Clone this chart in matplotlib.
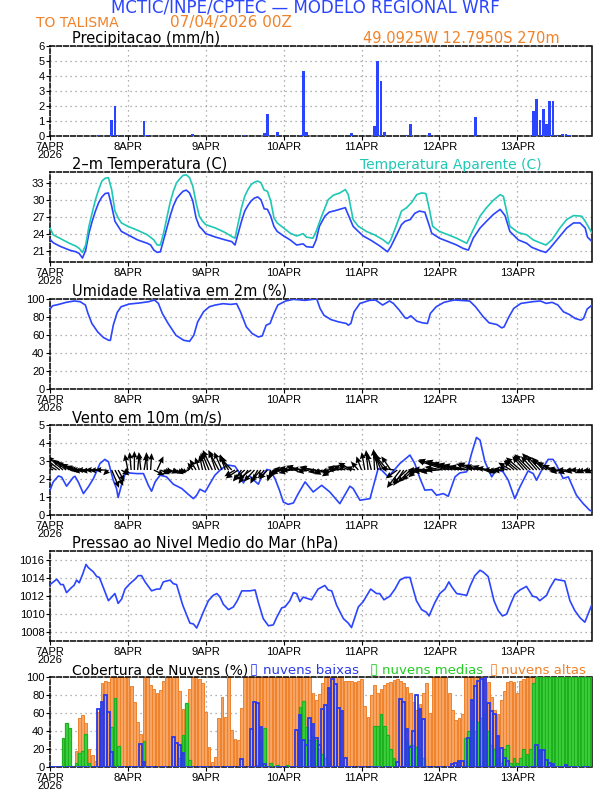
import matplotlib
matplotlib.use("Agg")
import matplotlib.pyplot as plt
import numpy as np

plt.rcParams['font.family'] = ['DejaVu Sans']

# hours since 07APR2026 00Z
days = [0, 24, 48, 72, 96, 120, 144]
day_labels = ['7APR\n2026', '8APR', '9APR', '10APR', '11APR', '12APR', '13APR']

# precipitation (mm/h)
precip_hours = [15, 19, 20, 21, 29, 30, 44, 60, 66, 67, 70, 77, 78, 79, 84, 86, 88, 93,
                100, 101, 102, 103, 110, 111, 117, 131, 134, 136, 149, 150, 151, 152,
                153, 154, 155, 156, 158, 159, 160, 162]
precip_vals = [0.05, 1.1, 2.0, 0.1, 1.0, 0.05, 0.15, 0.05, 0.2, 1.5, 0.3, 0.05, 4.35, 0.25,
               0.03, 0.03, 0.03, 0.2, 0.7, 5.0, 3.7, 0.25, 0.1, 0.8, 0.2, 1.3, 0.03, 0.03,
               1.65, 2.5, 1.05, 1.8, 0.8, 2.35, 2.35, 0.1, 0.15, 0.15, 0.1, 0.03]

# 2 m temperature (C)
t_temp = [0, 1, 3, 6, 8, 9, 10, 11, 12, 13, 14, 15, 16, 17, 18, 19, 20, 21, 22, 24, 27, 30,
          31, 32, 33, 34, 35, 36, 37, 38, 39, 40, 41, 42, 43, 44, 45, 46, 47, 48, 51, 54, 56,
          57, 58, 59, 60, 61, 62, 63, 64, 65, 66, 67, 68, 69, 70, 72, 74, 76, 78, 79, 81,
          82, 83, 84.7, 86, 88, 91, 91.4, 93.4, 95, 96.5, 99, 101.7, 104, 105, 106.8, 108.3,
          109.4, 111, 112.4, 113.8, 115.5, 116.6, 117.6, 120, 122.7, 125.3, 127.3, 128.9,
          130.4, 132.5, 134.5, 136.6, 138.7, 140.2, 141.7, 144.3, 146.9, 148.4, 151, 152.8,
          154, 156.6, 159.2, 161.3, 163.3, 164.9, 165.6, 167]
temp = [23.1, 22.5, 21.9, 21.2, 20.9, 20.6, 19.8, 21.2, 24.2, 26.3, 28.1, 29.6, 30.6, 31.2,
        31.3, 29.0, 26.3, 25.4, 24.5, 23.9, 23.0, 22.4, 22.1, 21.2, 20.8, 20.9, 23.0, 25.1,
        27.2, 29.0, 30.3, 31.0, 31.6, 31.8, 31.3, 29.9, 26.9, 25.4, 24.8, 24.1, 23.5, 23.0,
        22.7, 22.1, 24.2, 26.3, 28.1, 29.1, 29.9, 30.4, 30.6, 30.1, 28.5, 28.4, 27.2, 25.4,
        24.5, 23.7, 23.0, 22.1, 22.3, 21.8, 21.7, 23.0, 25.4, 27.2, 27.9, 28.2, 28.7, 28.1,
        25.4, 24.5, 23.7, 22.9, 21.9, 20.9, 21.8, 23.9, 25.7, 26.3, 26.6, 27.7, 28.1, 27.9,
        26.0, 24.2, 23.3, 22.7, 22.1, 21.5, 21.2, 23.3, 25.1, 26.3, 27.5, 28.4, 27.3, 24.5,
        23.0, 22.4, 21.7, 21.1, 20.8, 21.5, 23.3, 25.1, 26.0, 26.0, 25.1, 23.5, 22.7]

# apparent temperature (C)
t_tapar = [0, 1, 3, 6, 8, 9, 10, 11, 12, 13, 14, 15, 16, 17, 18, 19, 20, 21, 22, 24, 27, 30,
           32, 33, 34, 35, 36, 37, 38, 39, 40, 41, 42, 43, 44, 45, 46, 47, 48, 51, 54, 56, 57,
           58, 59, 60, 61, 62, 63, 64, 65, 66, 67, 68, 69, 70, 72, 74, 76, 78, 79, 81, 82,
           83.7, 85.7, 87.3, 89.3, 91, 91.9, 93.4, 95, 97.5, 100, 102.7, 104.2, 105, 106.8,
           108.3, 109.9, 111.4, 113, 114.5, 115.8, 116.9, 117.9, 120, 122.7, 125.3, 128.4,
           130.4, 132.5, 134.5, 136.6, 138.7, 139.7, 141.7, 144.3, 146.9, 148.9, 151, 152.8,
           154.6, 157.1, 159.2, 161.3, 163.8, 164.9, 167]
tapar = [25.1, 23.9, 23.3, 22.4, 21.9, 21.5, 20.8, 22.1, 25.4, 27.8, 30.1, 31.9, 33.4, 33.9,
         34.0, 31.9, 28.1, 26.9, 26.0, 25.4, 24.7, 23.9, 23.0, 22.1, 22.1, 24.2, 26.9, 29.6,
         31.6, 33.1, 33.8, 34.4, 34.5, 34.0, 32.5, 29.6, 27.2, 26.3, 25.7, 25.1, 24.3, 23.6,
         23.3, 26.0, 28.7, 30.7, 31.9, 32.8, 33.2, 33.4, 33.1, 31.8, 31.6, 29.9, 26.9, 26.0,
         25.1, 24.2, 23.7, 24.1, 23.5, 23.3, 24.5, 27.2, 30.1, 30.9, 31.3, 31.9, 31.0, 26.6,
         25.4, 24.5, 23.9, 23.0, 22.3, 23.0, 25.7, 28.1, 28.7, 29.6, 31.0, 31.3, 31.2, 28.4,
         25.4, 24.5, 23.9, 23.3, 22.4, 24.8, 27.2, 28.7, 30.0, 31.0, 30.7, 25.4, 24.3, 23.9,
         23.0, 22.5, 22.1, 23.0, 25.1, 26.6, 27.3, 27.2, 26.3, 24.2]

# relative humidity at 2 m (%)
t_rh = [0, 0.8, 2.7, 5, 7.5, 9.3, 10.9, 11.7, 12.9, 14.7, 16.5, 18.1, 18.6, 19.5, 20.7, 21.9,
        24.4, 27.4, 30.4, 32.2, 33.4, 34.6, 36.4, 38.8, 41.2, 43, 44.3, 45.5, 47.3, 49.1,
        50.9, 53.3, 55.7, 57.5, 58.7, 60.5, 62.3, 64.2, 65.4, 66.6, 67.8, 69, 70.2, 72.6, 75,
        78.6, 81, 82.2, 83.2, 84.4, 86.5, 88.9, 91.3, 91.9, 92.7, 93.7, 95.5, 98.5, 100.3,
        102.5, 104.6, 105.8, 107.6, 109.4, 110, 111.2, 113, 114.8, 116.3, 117.2, 119, 121.4,
        124.5, 129.3, 131.1, 133.5, 135.3, 137.7, 139.2, 139.9, 141.4, 142.9, 145.1, 148.7,
        151.1, 152.9, 154.7, 156.5, 158.2, 160, 161.8, 163.6, 164.4, 165.5, 167]
rh = [88.8, 92.5, 94.0, 96.3, 97.8, 97.0, 93.3, 84.0, 72.8, 63.4, 57.1, 54.1, 54.1, 70.9, 85.0,
      91.4, 94.4, 95.5, 97.0, 98.9, 95.1, 84.0, 72.8, 59.7, 54.1, 53.0, 59.7, 74.6, 85.8,
      91.4, 93.3, 94.8, 94.0, 94.8, 85.8, 69.0, 61.6, 57.8, 59.0, 70.9, 72.8, 84.0, 93.3,
      97.8, 99.6, 98.5, 99.6, 100.0, 89.6, 82.0, 77.2, 74.6, 72.8, 70.9, 72.8, 85.8, 95.1,
      98.5, 98.9, 93.3, 97.8, 95.1, 87.7, 79.1, 78.4, 81.3, 75.4, 73.5, 72.8, 84.0, 91.4,
      96.3, 98.9, 97.8, 91.4, 80.2, 73.5, 71.6, 67.9, 69.0, 80.2, 89.6, 95.1, 97.0, 97.8,
      95.1, 96.3, 93.3, 85.8, 82.8, 78.4, 76.5, 78.4, 88.8, 93.3]

# 10 m wind speed (m/s)
t_wind = [0, 1, 2.6, 3.6, 5.1, 7.2, 7.7, 8.7, 10.3, 11.8, 13.4, 15.4, 16.9, 18, 19.5, 20.5,
          21, 22, 23.1, 24.1, 26.7, 28.8, 30.3, 31.3, 32.4, 33.9, 35.9, 38, 40.6, 42.6, 44.2,
          45.2, 46.2, 47.8, 49.3, 50.8, 52.9, 55, 57, 58.5, 59.6, 60.6, 61.6, 62.6, 64.2,
          65.2, 66.8, 67.8, 69.3, 70.7, 71.9, 73.4, 75, 76.5, 78.6, 81.1, 83.7, 86.2, 89.3,
          92.4, 93.4, 95.5, 98.6, 101.1, 102.2, 104.2, 107.8, 110.9, 112.4, 114, 115.5, 117.6,
          119.1, 121.2, 122.7, 124.8, 126.3, 128.4, 129.9, 131.4, 132.5, 134, 136.1, 137.6,
          139.6, 141.2, 143.2, 144.8, 147.3, 148.9, 149.9, 151.5, 153.5, 155, 156.1, 158.1,
          159.7, 162.2, 164.3, 166.3, 167]
wspd = [1.38, 1.84, 2.17, 2.1, 1.6, 2.1, 2.15, 1.84, 1.19, 1.56, 2.03, 2.86, 3.09, 2.96, 1.93,
        1.47, 0.97, 1.65, 2.25, 2.34, 2.3, 2.3, 1.65, 1.32, 1.84, 2.21, 2.12, 1.71, 1.47, 1.15,
        0.91, 1.1, 1.43, 1.28, 1.75, 2.21, 2.58, 2.77, 2.71, 2.3, 1.78, 2.12, 2.15, 1.97, 1.71,
        2.12, 2.53, 2.49, 2.03, 1.38, 0.72, 0.59, 0.67, 1.19, 1.84, 1.28, 1.65, 1.28, 0.63,
        1.6, 1.47, 0.82, 0.91, 2.58, 2.49, 2.12, 2.86, 3.33, 2.86, 2.03, 1.38, 1.41, 1.1, 1.19,
        1.04, 2.12, 2.34, 2.4, 3.42, 4.31, 4.16, 2.96, 2.12, 2.53, 2.4, 1.93, 0.91, 1.56, 2.45,
        2.3, 1.93, 2.49, 3.09, 3.09, 2.77, 2.03, 2.12, 1.1, 0.63, 0.26, 0.22]

# hourly wind vector components (m/s), drawn along the 2.5 line
u10 = [-1.6, -1.8, -2.0, -2.8, -3.0, -2.6, -2.4, -2.2, -2.0, -2.4, -2.6, -2.8, -3.0, -3.0, -2.8, -2.6, -2.4, -2.0, -1.0, 1.4, 1.6, 1.2, 1.5, 1.0,
       -0.6, -0.3, 0.0, 0.3, -0.4, 0.5, -0.2, 0.2, 2.0, 1.2, 1.8, 1.5, 1.2, 1.6, 1.0, 1.4, 1.2, 0.8, 0.5, -0.5, -1.0, -1.2, -0.8, -0.6,
       -1.0, -1.4, -1.8, -1.2, -2.0, -1.5, -1.0, -1.8, -2.2, -2.0, -2.4, -1.6, -2.2, -1.8, -2.6, -2.0, -1.4, -1.8, -1.2, -1.6, -0.6, -1.0, -1.5, -2.0,
       -2.4, -2.6, -2.2, -2.8, -3.0, -2.6, -3.2, -2.8, -2.4, -2.6, -3.0, -2.2, -1.8, -2.2, -1.6, -2.0, -2.6, -2.2, -2.8, -2.4, -2.0, -2.6, -1.8, -1.4,
       -1.0, -0.6, -0.4, -0.8, -0.2, -0.6, -1.4, -2.0, -2.4, -1.8, -2.6, -2.2, -2.6, -2.0, -2.8, -2.4, -2.2, -1.6, -2.4, -3.0, -2.6, -3.2, -2.8, -3.0,
       -2.6, -3.4, -5.4, -5.8, -5.2, -5.6, -5.0, -4.6, -4.2, -3.6, -3.0, -3.2, -2.6, -3.0, -2.4, 1.6, -2.8, -2.2, -2.0, -1.6, -2.2, -1.8, -2.4, -2.0,
       -2.4, -2.8, -2.2, -2.6, -3.0, -2.4, -2.8, -2.6, -2.2, -2.8, -2.4, -2.0, -1.6, -2.0, -2.4, -1.8, -2.2, -1.6, -2.0, -1.8, -1.4, -1.6, -1.2, -1.4]
v10 = [0.4, 0.8, 1.2, 2.2, 2.6, 2.0, 1.6, 1.2, 0.8, 0.4, 0.2, 0.0, -0.2, 0.0, -0.2, 0.0, -0.1, 0.0, -1.0, -3.4, -3.0, -2.2, -1.0, -0.6,
       3.0, 3.4, 3.6, 3.2, 3.4, 3.0, 3.4, 3.2, -1.0, 2.6, -0.8, -0.6, -0.4, -0.6, -0.4, -0.8, -0.6, -0.4, -0.2, 0.6, 1.4, 2.0, 2.4, 2.8,
       3.2, 3.4, 3.8, 3.6, 3.8, 3.4, 3.0, 2.8, 2.4, -1.2, -1.6, -2.2, -2.0, -2.6, -1.8, -2.2, -2.6, -2.0, -1.6, -1.8, -2.2, -1.6, -1.0, -0.6,
       -0.4, 0.2, -0.6, 0.4, 0.0, 0.8, 0.6, 0.2, -0.4, 0.6, 0.4, -0.4, -0.6, -0.8, -0.4, -1.2, -0.6, 0.2, 0.6, 0.8, 1.0, 1.4, 0.6, 1.6,
       2.6, 3.4, 3.8, 3.2, 4.0, 3.6, 3.4, 3.0, 2.8, 2.6, 0.4, -1.6, -3.4, -3.0, -2.6, -2.4, -2.0, -1.4, -0.4, 0.0, -0.4, 0.2, -0.2, -0.4,
       0.0, 0.6, 1.8, 2.0, 1.6, 1.8, 1.4, 1.2, 1.0, 0.8, 1.2, 1.4, 1.0, 0.6, 0.8, -0.6, 0.4, 0.0, -0.2, 0.2, -0.2, 0.6, 1.4, 1.8,
       2.0, 2.4, 2.6, 2.8, 3.0, 2.6, 3.2, 2.8, 2.4, 2.0, 1.6, 1.0, 0.4, -0.2, -0.4, 0.0, -0.6, -0.2, -0.4, 0.0, -0.6, -0.4, -0.2, -0.6]

# mean sea level pressure (hPa)
t_pres = [0, 2.1, 3.3, 4.1, 5.1, 6.7, 7.4, 8.2, 9, 10.1, 11.1, 11.8, 13.4, 14.4, 15.2, 16.4,
          18, 20, 21, 22.1, 23.1, 24.6, 26.2, 27.2, 28.2, 29.3, 31.3, 32.9, 33.9, 34.9, 37,
          38, 39, 40.9, 43.1, 44.2, 45.2, 46.2, 47.2, 48.8, 50.3, 51.4, 52.4, 53.4, 55, 56.5,
          57.7, 59.1, 60.1, 61.6, 63.2, 64.2, 65.7, 67.3, 68.8, 69.8, 71.4, 72.4, 73.9, 75, 76,
          77, 78, 80.6, 82.6, 84.7, 85.7, 86.8, 88.3, 90.4, 91.9, 92.9, 93.9, 95, 96.5, 98.8,
          100.6, 101.6, 102.9, 104.7, 106.3, 107.8, 109.4, 110.9, 111.9, 112.9, 114.5, 116,
          116.8, 118.6, 120.1, 121.7, 122.9, 123.7, 125.3, 126.8, 128.4, 129.4, 130.9, 132.5,
          133.5, 135, 136.8, 138.1, 139.4, 140.7, 141.9, 143.2, 144.8, 146.8, 148.7, 149.9,
          150.9, 153, 154, 155.6, 157.1, 158.6, 160.2, 161.7, 163.3, 164.8, 167]
pres = [1013.3, 1013.9, 1013.3, 1013.3, 1012.4, 1013.0, 1013.2, 1013.8, 1013.5, 1014.5,
        1015.55, 1015.2, 1014.7, 1014.2, 1014.1, 1013.0, 1011.5, 1012.3, 1011.2, 1011.7,
        1012.8, 1013.4, 1013.9, 1014.3, 1014.3, 1013.6, 1012.6, 1012.8, 1012.8, 1013.6,
        1013.8, 1013.4, 1013.3, 1011.0, 1009.0, 1008.9, 1008.45, 1009.3, 1010.2, 1011.5,
        1012.1, 1012.3, 1011.9, 1011.1, 1010.5, 1010.8, 1011.5, 1012.6, 1012.6, 1012.6,
        1012.7, 1011.3, 1009.5, 1008.7, 1008.8, 1009.6, 1010.7, 1010.8, 1011.5, 1012.4,
        1012.3, 1011.4, 1011.9, 1011.6, 1012.8, 1013.2, 1012.7, 1012.6, 1011.0, 1009.5,
        1009.0, 1008.5, 1009.6, 1010.8, 1011.4, 1012.8, 1012.3, 1012.3, 1011.6, 1012.0,
        1012.8, 1013.8, 1014.1, 1014.1, 1012.8, 1011.5, 1010.5, 1010.2, 1009.8, 1011.3,
        1012.3, 1012.8, 1013.6, 1013.1, 1012.3, 1012.2, 1012.1, 1013.1, 1014.3, 1014.9,
        1014.7, 1014.2, 1011.5, 1010.4, 1009.8, 1010.0, 1011.1, 1012.2, 1012.7, 1013.1,
        1012.0, 1011.9, 1011.5, 1012.1, 1012.9, 1013.9, 1013.8, 1013.7, 1011.5, 1010.4,
        1009.6, 1009.1, 1011.1]

# cloud cover (%), hourly from 07APR 00Z
cloud_high = [0, 0, 0, 0, 0, 0, 0, 0, 18, 54, 58, 49, 20, 13, 7, 61, 93, 96, 94, 100, 100, 100, 100, 100,
              100, 90, 72, 50, 37, 100, 100, 91, 87, 82, 86, 96, 100, 100, 100, 100, 85, 65, 61, 87, 100, 100, 98, 93,
              61, 22, 6, 11, 54, 78, 56, 100, 41, 31, 30, 66, 100, 100, 100, 100, 100, 100, 100, 100, 100, 100, 100, 100,
              100, 100, 100, 100, 100, 100, 100, 100, 100, 82, 75, 81, 93, 100, 100, 100, 100, 100, 100, 96, 96, 96, 95, 96,
              98, 68, 56, 80, 91, 82, 87, 91, 93, 94, 97, 98, 96, 93, 89, 82, 72, 63, 70, 82, 93, 60, 100, 100,
              100, 100, 100, 82, 63, 52, 54, 59, 100, 100, 100, 100, 100, 100, 100, 95, 78, 63, 59, 74, 85, 94, 96, 94,
              82, 96, 98, 100, 100, 100, 100, 100, 100, 100, 100, 100, 100, 100, 100, 100, 100, 100, 100, 100, 100, 100, 100, 100]
cloud_mid = [0, 0, 0, 0, 32, 49, 43, 0, 5, 16, 18, 37, 5, 0, 0, 0, 0, 0, 0, 44, 77, 23, 0, 0,
             0, 0, 0, 0, 0, 29, 0, 0, 0, 0, 0, 0, 0, 0, 0, 0, 10, 36, 71, 8, 0, 0, 0, 0,
             0, 0, 0, 0, 0, 0, 0, 0, 0, 0, 0, 0, 0, 0, 0, 0, 2, 29, 43, 0, 5, 0, 2, 0,
             0, 2, 0, 0, 0, 67, 73, 44, 30, 35, 30, 20, 15, 10, 5, 0, 0, 0, 0, 0, 0, 0, 0, 0,
             0, 0, 0, 0, 46, 46, 59, 46, 36, 20, 10, 0, 0, 0, 30, 25, 25, 22, 20, 10, 0, 0, 0, 0,
             0, 0, 0, 0, 0, 0, 0, 0, 32, 40, 52, 40, 50, 55, 60, 40, 25, 20, 10, 5, 20, 25, 5, 10,
             5, 10, 20, 15, 20, 93, 100, 100, 100, 100, 100, 100, 100, 100, 100, 100, 100, 100, 100, 100, 100, 100, 100, 100]
cloud_low = [0, 0, 0, 0, 0, 0, 0, 0, 0, 0, 0, 0, 0, 0, 0, 65, 72, 80, 61, 17, 0, 0, 0, 0,
             0, 0, 0, 0, 26, 6, 0, 0, 0, 0, 0, 0, 0, 0, 33, 27, 24, 16, 0, 0, 0, 0, 0, 0,
             0, 0, 0, 0, 0, 0, 0, 0, 0, 0, 0, 9, 0, 0, 42, 72, 71, 45, 3, 0, 0, 0, 0, 0,
             0, 0, 0, 0, 41, 58, 30, 24, 54, 48, 32, 25, 65, 69, 88, 98, 92, 66, 62, 10, 0, 0, 0, 0,
             0, 0, 0, 0, 0, 0, 0, 0, 0, 0, 0, 6, 76, 72, 42, 22, 40, 80, 65, 53, 0, 0, 0, 0,
             0, 0, 0, 0, 3, 5, 7, 7, 0, 32, 75, 90, 96, 98, 100, 71, 62, 59, 35, 21, 10, 7, 0, 0,
             0, 0, 0, 0, 0, 0, 25, 19, 19, 8, 4, 3, 0, 0, 0, 2, 0, 0, 0, 0, 0, 0, 0, 0]

hours = np.arange(168)
BLUE = '#2b45ff'
CYAN = '#1ec8b4'
ORANGE = '#f0822a'
LOWC = '#2a3ae8'
MIDC = '#22cc22'
W, H = 612, 792
TICKFONT = 'Liberation Sans'


def make_axes(top):
    ax = fig.add_axes([50 / W, 1 - (top + 90) / H, 542 / W, 90 / H])
    ax.set_xlim(0, 167)
    ax.set_xticks(days)
    ax.set_xticklabels(day_labels, linespacing=0.85)
    ax.tick_params(direction='out', length=3, width=0.8, labelsize=8, pad=1)
    for lab in ax.get_xticklabels() + ax.get_yticklabels():
        lab.set_family(TICKFONT)
    ax.grid(True, color='#999999', linestyle=(0, (1, 3)), linewidth=0.9)
    for s in ['top', 'left', 'bottom']:
        ax.spines[s].set_linestyle((0, (3, 1.5)))
    for s in ax.spines.values():
        s.set_linewidth(1.1)
    return ax


def title(ax, txt, x=72, color='black', size=10.5):
    ax.text((x - 50) / 542, 1.0, txt, transform=ax.transAxes, fontsize=size,
            color=color, va='bottom', ha='left')


fig = plt.figure(figsize=(W / 100, H / 100), dpi=100)

fig.text(305 / W, 1 - 8 / H, 'MCTIC/INPE/CPTEC \u2014 MODELO REGIONAL WRF', color=BLUE,
         fontsize=12, ha='center', va='center')
fig.text(36 / W, 1 - 23 / H, 'TO TALISMA', color=ORANGE, fontsize=10, ha='left', va='center')
fig.text(170 / W, 1 - 23 / H, '07/04/2026 00Z', color=ORANGE, fontsize=11, ha='left', va='center')

# precipitation
ax1 = make_axes(46)
ax1.bar(precip_hours, precip_vals, width=0.85, color=BLUE, zorder=3)
ax1.set_ylim(0, 6)
ax1.set_yticks(range(0, 7))
title(ax1, 'Precipitacao (mm/h)')
ax1.text(510 / 542, 1.0, '49.0925W 12.7950S 270m', transform=ax1.transAxes, fontsize=10.5,
         color=ORANGE, va='bottom', ha='right')

# temperature
ax2 = make_axes(172)
ax2.plot(t_temp, temp, color=BLUE, lw=1.2, zorder=3)
ax2.plot(t_tapar, tapar, color=CYAN, lw=1.2, zorder=3)
ax2.set_ylim(19.1, 35)
ax2.set_yticks([21, 24, 27, 30, 33])
title(ax2, '2\u2013m Temperatura (C)')
title(ax2, 'Temperatura Aparente (C)', x=360, color=CYAN, size=10)

# relative humidity
ax3 = make_axes(299)
ax3.plot(t_rh, rh, color=BLUE, lw=1.2, zorder=3)
ax3.set_ylim(0, 100)
ax3.set_yticks(range(0, 101, 20))
title(ax3, 'Umidade Relativa em 2m (%)')

# wind
ax4 = make_axes(425)
ax4.plot(t_wind, wspd, color=BLUE, lw=1.2, zorder=3)
ax4.quiver(hours, np.full(168, 2.5), u10, v10, angles='uv', scale_units='inches', scale=19,
           width=0.0025, headwidth=4.5, headlength=5, headaxislength=4.5, color='black', zorder=4)
ax4.set_ylim(0, 5)
ax4.set_yticks(range(0, 6))
title(ax4, 'Vento em 10m (m/s)')

# pressure
ax5 = make_axes(551)
ax5.plot(t_pres, pres, color=BLUE, lw=1.2, zorder=3)
ax5.set_ylim(1007, 1017.05)
ax5.set_yticks(range(1008, 1017, 2))
title(ax5, 'Pressao ao Nivel Medio do Mar (hPa)')

# clouds
ax6 = make_axes(677)
ax6.bar(hours, cloud_high, width=0.85, facecolor='#f7a564', edgecolor=ORANGE, lw=0.7, zorder=2)
ax6.bar(hours, cloud_mid, width=0.85, facecolor='#3fd33f', edgecolor='#1fb01f', lw=0.9, zorder=3)
ax6.bar(hours, cloud_low, width=0.85, facecolor='none', edgecolor=LOWC, lw=1.3, zorder=4)
ax6.set_ylim(0, 100)
ax6.set_yticks(range(0, 101, 20))
title(ax6, 'Cobertura de Nuvens (%)', size=10)
title(ax6, '\u25af', x=250, color=LOWC, size=10.5)
title(ax6, 'nuvens baixas', x=263, color=LOWC, size=9.5)
title(ax6, '\u25af', x=370, color=MIDC, size=10.5)
title(ax6, 'nuvens medias', x=382, color=MIDC, size=9.5)
title(ax6, '\u25af', x=490, color=ORANGE, size=10.5)
title(ax6, 'nuvens altas', x=501, color=ORANGE, size=9.5)

fig.savefig('out.png', dpi=100)
